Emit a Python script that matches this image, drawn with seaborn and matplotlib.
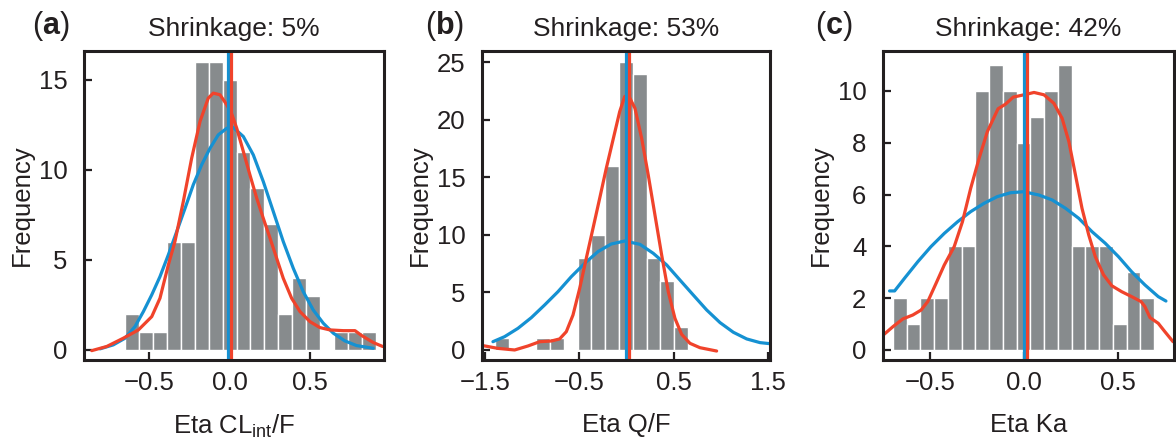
"""
Eta distribution panels with shrinkage: histogram, normal fit (blue) and density (red).
"""

import numpy as np
import pandas as pd
import matplotlib
matplotlib.use("Agg")
import matplotlib.pyplot as plt
import seaborn as sns

# Histogram counts per panel
counts_a = [2, 1, 1, 6, 6, 16, 16, 15, 11, 9, 7, 2, 4, 3, 0, 1, 1, 1]
counts_b = [1, 0, 0, 1, 1, 0, 8, 10, 16, 25, 24, 8, 6, 2]
counts_c = [2, 1, 2, 2, 4, 4, 10, 11, 10, 8, 9, 10, 11, 4, 4, 4, 1, 3, 2]
bin_start = [-0.649, -1.394, -0.700]
bin_width = [0.0866, 0.1462, 0.0734]

# Normal-fit curves (blue)
blue_a_x = [-0.804, -0.722, -0.649, -0.587, -0.535, -0.483, -0.432, -0.380, -0.328,
            -0.276, -0.225, -0.173, -0.121, -0.070, -0.017, 0.024, 0.086, 0.148,
            0.210, 0.272, 0.334, 0.396, 0.458, 0.520, 0.583, 0.645, 0.717, 0.790, 0.893]
blue_a_y = [0.06, 0.28, 0.65, 1.30, 2.13, 3.06, 4.07, 5.28, 6.57,
            7.87, 9.17, 10.28, 11.20, 11.94, 12.31, 12.35, 11.85, 10.83,
            9.35, 7.69, 6.02, 4.54, 3.24, 2.22, 1.48, 0.93, 0.50, 0.24, 0.09]
blue_b_x = [-1.415, -1.291, -1.150, -1.008, -0.867, -0.725, -0.584, -0.442, -0.301,
            -0.160, -0.018, 0.144, 0.285, 0.427, 0.568, 0.709, 0.851, 0.993,
            1.134, 1.276, 1.417, 1.52]
blue_b_y = [0.72, 1.16, 1.88, 2.81, 3.91, 5.07, 6.37, 7.53, 8.55,
            9.21, 9.47, 9.18, 8.40, 7.39, 6.08, 4.78, 3.48, 2.38,
            1.54, 0.96, 0.64, 0.55]
blue_c_x = [-0.718, -0.691, -0.638, -0.567, -0.497, -0.426, -0.355, -0.285, -0.214,
            -0.143, -0.072, -0.002, 0.080, 0.150, 0.221, 0.292, 0.362, 0.433,
            0.504, 0.574, 0.645, 0.716, 0.757]
blue_c_y = [2.28, 2.28, 2.77, 3.41, 3.99, 4.50, 4.95, 5.34, 5.66,
            5.92, 6.07, 6.11, 5.98, 5.79, 5.47, 5.08, 4.57, 4.12,
            3.60, 3.02, 2.51, 2.06, 1.89]

# Density curves (red)
red_a_x = [-0.856, -0.763, -0.660, -0.566, -0.483, -0.432, -0.380, -0.339, -0.287,
           -0.235, -0.183, -0.132, -0.101, -0.059, -0.017, 0.014, 0.045, 0.086,
           0.127, 0.169, 0.210, 0.252, 0.293, 0.334, 0.386, 0.438, 0.500, 0.562,
           0.624, 0.707, 0.780, 0.821, 0.893, 0.952]
red_a_y = [-0.04, 0.19, 0.65, 1.11, 1.85, 2.87, 4.72, 6.02, 8.24,
           10.65, 12.69, 13.98, 14.26, 14.17, 13.61, 13.10, 12.31, 11.02,
           9.72, 8.43, 7.31, 6.20, 5.09, 3.98, 2.87, 2.13, 1.57, 1.24,
           1.11, 1.07, 1.07, 0.80, 0.41, 0.19]
red_b_x = [-1.521, -1.362, -1.185, -1.043, -0.920, -0.796, -0.708, -0.637, -0.566,
           -0.495, -0.425, -0.354, -0.283, -0.213, -0.142, -0.071, -0.018, 0.020,
           0.091, 0.162, 0.232, 0.303, 0.374, 0.444, 0.515, 0.586, 0.674, 0.780, 0.957]
red_b_y = [0.38, 0.14, 0.0, 0.35, 0.72, 0.78, 0.96, 1.59, 3.04,
           5.36, 7.97, 10.57, 13.18, 15.79, 18.25, 20.71, 22.02, 22.16,
           21.0, 18.4, 15.2, 11.73, 8.26, 5.07, 2.75, 1.36, 0.58, 0.20, -0.09]
red_c_x = [-0.748, -0.700, -0.647, -0.594, -0.550, -0.514, -0.470, -0.426, -0.373,
           -0.329, -0.285, -0.240, -0.196, -0.139, -0.099, -0.058, 0.012, 0.053,
           0.106, 0.159, 0.203, 0.239, 0.274, 0.309, 0.345, 0.380, 0.424, 0.468,
           0.521, 0.574, 0.624, 0.645, 0.672, 0.716, 0.751, 0.795]
red_c_y = [0.60, 0.90, 1.20, 1.35, 1.54, 1.87, 2.57, 3.28, 3.99,
           4.95, 6.24, 7.40, 8.43, 9.31, 9.49, 9.76, 9.87, 9.94,
           9.85, 9.52, 8.94, 8.04, 6.76, 5.47, 4.44, 3.60, 2.90, 2.48,
           2.25, 2.06, 1.87, 1.67, 1.25, 1.03, 0.71, 0.32]

# Means (vertical lines)
blue_mean = [-0.01, 0.0, 0.0]
red_mean = [0.01, 0.031, 0.016]

panel_letters = ["a", "b", "c"]
shrinkage = [5, 53, 42]
x_labels = [r"Eta CL$_{\mathrm{int}}$/F", "Eta Q/F", "Eta Ka"]
x_ticks = [[-0.5, 0.0, 0.5], [-1.5, -0.5, 0.5, 1.5], [-0.5, 0.0, 0.5]]
x_tick_labels = [["\u22120.5", "0.0", "0.5"], ["\u22121.5", "\u22120.5", "0.5", "1.5"],
                 ["\u22120.5", "0.0", "0.5"]]
y_ticks = [[0, 5, 10, 15], [0, 5, 10, 15, 20, 25], [0, 2, 4, 6, 8, 10]]

GRAY = "#878b8d"
BLUE = "#1591d2"
RED = "#f0432b"
DARK = "#231f20"

sns.set_theme(style="ticks")
plt.rcParams["font.family"] = ["Liberation Sans", "DejaVu Sans"]
plt.rcParams["mathtext.fontset"] = "custom"
plt.rcParams["mathtext.rm"] = "Liberation Sans"
plt.rcParams["mathtext.bf"] = "Liberation Sans:bold"
plt.rcParams["mathtext.it"] = "Liberation Sans:italic"

fig = plt.figure(figsize=(11.76, 4.43), dpi=100)
W, H = 1176.0, 443.0

# axes boxes in pixels: left, right, top, bottom
boxes = [(84, 384, 51, 360), (482, 770, 51, 360), (883, 1174, 51, 360)]
xlims = [(-0.904, 0.96), (-1.531, 1.523), (-0.753, 0.80)]
ylims = [(-0.56, 16.6), (-0.87, 25.98), (-0.386, 11.54)]
label_x = [32, 425, 815]

all_counts = [counts_a, counts_b, counts_c]
blues = [(blue_a_x, blue_a_y), (blue_b_x, blue_b_y), (blue_c_x, blue_c_y)]
reds = [(red_a_x, red_a_y), (red_b_x, red_b_y), (red_c_x, red_c_y)]

for i in range(3):
    l, r, t, b = boxes[i]
    ax = fig.add_axes([l / W, 1 - b / H, (r - l) / W, (b - t) / H])

    counts = np.array(all_counts[i], dtype=float)
    edges = bin_start[i] + bin_width[i] * np.arange(len(counts) + 1)
    hist_df = pd.DataFrame({"eta": (edges[:-1] + edges[1:]) / 2, "n": counts})
    sns.histplot(data=hist_df, x="eta", weights="n", bins=list(edges), ax=ax,
                 color=GRAY, edgecolor="white", linewidth=1.0, alpha=1.0)

    bx, by = blues[i]
    rx, ry = reds[i]
    sns.lineplot(x=bx, y=by, ax=ax, color=BLUE, linewidth=2.3, sort=False)
    sns.lineplot(x=rx, y=ry, ax=ax, color=RED, linewidth=2.3, sort=False)
    ax.axvline(blue_mean[i], color=BLUE, linewidth=2.3)
    ax.axvline(red_mean[i], color=RED, linewidth=2.3)

    ax.set_xlim(*xlims[i])
    ax.set_ylim(*ylims[i])
    ax.set_xticks(x_ticks[i])
    ax.set_xticklabels(x_tick_labels[i])
    ax.set_yticks(y_ticks[i])

    for s in ax.spines.values():
        s.set_visible(True)
        s.set_linewidth(2.2)
        s.set_color(DARK)
    ax.tick_params(axis="both", direction="in", length=6, width=1.6,
                   color=DARK, labelsize=18.5, labelcolor=DARK)
    ax.tick_params(axis="x", pad=8)
    ax.tick_params(axis="y", pad=12)

    ax.set_xlabel(x_labels[i], fontsize=18.5, color=DARK)
    ax.set_ylabel("Frequency", fontsize=18.5, color=DARK)
    ax.xaxis.set_label_coords(0.5, -0.17)
    ax.yaxis.set_label_coords(-50.0 / (r - l), 0.5)
    ax.set_title(f"Shrinkage: {shrinkage[i]}%", fontsize=19, color=DARK, pad=11)

    fig.text(label_x[i] / W, 1 - 34 / H, r"($\mathbf{" + panel_letters[i] + "}$)",
             fontsize=22, color=DARK, ha="left", va="baseline")

fig.savefig("out.png", dpi=100)
